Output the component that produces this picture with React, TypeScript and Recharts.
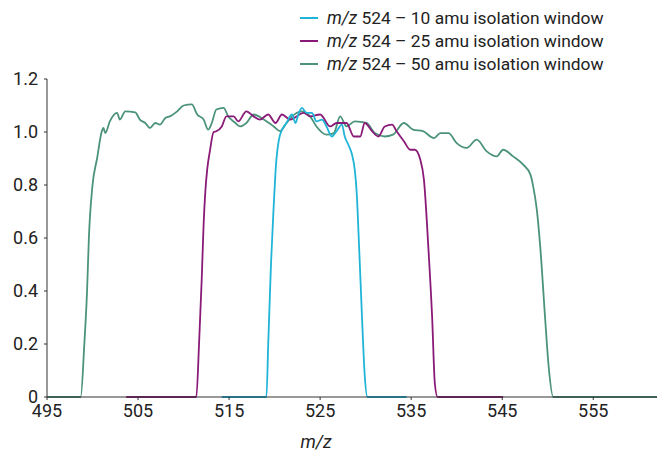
import { Line, LineChart, XAxis, YAxis } from "recharts";

// m/z 524 – 10 amu window
const w10Mz = [514.2, 519.1, 519.3, 519.6, 519.9, 520.1, 520.6, 521.3, 521.9, 522.3, 522.6, 523.0, 523.5, 524.1, 524.6, 525.2, 525.7, 526.3, 526.8, 527.4, 527.7, 528.1, 528.5, 528.8, 529.0, 529.3, 529.6, 529.9, 530.2, 534.5];
const w10Int = [0, 0, 0.2, 0.5, 0.72, 0.85, 0.99, 1.034, 1.066, 1.034, 1.066, 1.091, 1.072, 1.072, 1.04, 1.047, 1.021, 0.983, 1.003, 1.028, 0.983, 0.952, 0.915, 0.858, 0.78, 0.55, 0.3, 0.08, 0, 0];

// m/z 524 – 25 amu window
const w25Mz = [503.7, 511.4, 511.7, 512.0, 512.2, 512.4, 512.6, 512.9, 513.3, 513.6, 514.2, 514.7, 515.5, 516.0, 516.9, 517.7, 518.4, 519.3, 520.1, 520.8, 521.7, 523.2, 523.9, 525.0, 526.1, 526.8, 527.9, 528.7, 529.4, 529.9, 530.7, 531.4, 532.1, 532.9, 533.4, 534.2, 534.9, 535.4, 536.0, 536.4, 536.9, 537.3, 537.6, 537.9, 545.1];
const w25Int = [0, 0, 0.2, 0.45, 0.65, 0.78, 0.86, 0.93, 1.0, 1.003, 1.021, 1.059, 1.059, 1.04, 1.078, 1.059, 1.047, 1.066, 1.034, 1.066, 1.047, 1.072, 1.059, 1.066, 1.021, 1.034, 1.034, 0.983, 0.983, 1.034, 1.003, 0.983, 1.021, 1.028, 1.003, 0.965, 0.933, 0.933, 0.896, 0.82, 0.556, 0.303, 0.05, 0, 0];

// m/z 524 – 50 amu window
const w50Mz = [495, 498.7, 499.1, 499.4, 499.6, 500.0, 500.5, 501.0, 501.2, 501.4, 501.9, 502.7, 503.0, 503.6, 504.7, 505.2, 505.8, 506.3, 506.9, 507.4, 508.0, 508.5, 509.3, 510.0, 510.9, 511.5, 512.2, 512.7, 513.1, 513.6, 514.4, 514.9, 515.7, 516.2, 516.9, 517.7, 518.8, 519.9, 520.6, 521.3, 522.4, 523.0, 523.9, 524.6, 525.7, 526.5, 527.2, 527.9, 528.8, 530.1, 531.0, 532.1, 533.0, 534.2, 535.2, 536.3, 537.5, 538.2, 539.1, 540.0, 541.1, 542.2, 543.3, 544.4, 545.1, 546.2, 547.3, 548.1, 548.4, 548.8, 549.2, 549.7, 550.1, 550.6, 562];
const w50Int = [0, 0, 0.2, 0.4, 0.6, 0.8, 0.9, 1.0, 1.015, 0.996, 1.04, 1.072, 1.047, 1.078, 1.074, 1.047, 1.034, 1.015, 1.034, 1.028, 1.053, 1.059, 1.078, 1.1, 1.104, 1.066, 1.047, 1.009, 1.034, 1.085, 1.091, 1.059, 1.034, 1.021, 1.034, 1.066, 1.047, 1.021, 1.003, 1.034, 1.072, 1.078, 1.059, 1.021, 0.99, 0.996, 1.059, 1.021, 1.04, 1.034, 0.996, 0.983, 0.99, 1.034, 1.009, 1.003, 0.977, 0.996, 0.996, 0.958, 0.94, 0.971, 0.927, 0.908, 0.933, 0.908, 0.877, 0.839, 0.795, 0.707, 0.556, 0.303, 0.115, 0, 0];

const xTicks = [495, 505, 515, 525, 535, 545, 555];
const yTicks = [0, 0.2, 0.4, 0.6, 0.8, 1.0, 1.2];

const SERIES = [
  { key: "w10", label: "524 – 10 amu isolation window", color: "#1fb4d8", mz: w10Mz, int: w10Int },
  { key: "w25", label: "524 – 25 amu isolation window", color: "#8a1a78", mz: w25Mz, int: w25Int },
  { key: "w50", label: "524 – 50 amu isolation window", color: "#4b937a", mz: w50Mz, int: w50Int },
];

const FONT = "Roboto, 'Liberation Sans', sans-serif";
const TEXT = "#222";

const toRows = (mz: number[], int: number[]) => mz.map((x, i) => ({ x, y: int[i] }));

function LegendBox() {
  return (
    <div style={{ position: "absolute", left: 300, top: 6, fontFamily: FONT, fontSize: 17.4, color: TEXT, whiteSpace: "nowrap" }}>
      {SERIES.map((s) => (
        <div key={s.key} style={{ display: "flex", alignItems: "center", height: 23 }}>
          <span style={{ width: 18, height: 2, background: s.color, marginRight: 9 }} />
          <span>
            <i>m/z</i> {s.label}
          </span>
        </div>
      ))}
    </div>
  );
}

export default function App() {
  return (
    <div style={{ position: "absolute", left: 0, top: 0, width: 657, height: 453, background: "#fff" }}>
      <LineChart width={657} height={453} margin={{ top: 79, right: 0, bottom: 0, left: 0 }}>
        <XAxis
          type="number"
          dataKey="x"
          domain={[495, 562]}
          ticks={xTicks}
          allowDataOverflow
          height={56}
          stroke="#333"
          tickSize={3}
          tickMargin={4}
          tick={{ fill: TEXT, fontSize: 18, fontFamily: FONT }}
          label={{ value: "m/z", position: "insideBottom", offset: 5, dx: -36, fill: TEXT, fontSize: 18, fontFamily: FONT, fontStyle: "italic" }}
        />
        <YAxis
          type="number"
          domain={[0, 1.2]}
          ticks={yTicks}
          width={47}
          stroke="#333"
          tickSize={3}
          tickMargin={6}
          tickFormatter={(v: number) => (v === 0 ? "0" : v.toFixed(1))}
          tick={{ fill: TEXT, fontSize: 18, fontFamily: FONT }}
        />
        {[...SERIES].reverse().map((s) => (
          <Line
            key={s.key}
            data={toRows(s.mz, s.int)}
            dataKey="y"
            type="monotone"
            stroke={s.color}
            strokeWidth={1.8}
            dot={false}
            isAnimationActive={false}
          />
        ))}
      </LineChart>
      <LegendBox />
    </div>
  );
}
